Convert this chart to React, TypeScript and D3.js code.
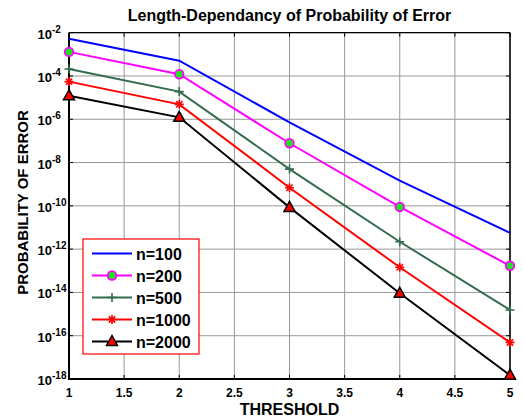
import React from 'react';
import * as d3 from 'd3';

const thresholds = [1, 2, 3, 4, 5];
const p100 = [5.2e-3, 5.1e-4, 7.2e-7, 1.45e-9, 5.7e-12];
const p200 = [1.3e-3, 1.2e-4, 7.8e-8, 8.9e-11, 1.7e-13];
const p500 = [2.1e-4, 1.9e-5, 5.0e-9, 2.2e-12, 1.55e-15];
const p1000 = [5.5e-5, 4.9e-6, 6.9e-10, 1.45e-13, 4.9e-17];
const p2000 = [1.23e-5, 1.23e-6, 8.5e-11, 9.1e-15, 1.5e-18];

const xTicks = [1, 1.5, 2, 2.5, 3, 3.5, 4, 4.5, 5];
const yExponents = [-2, -4, -6, -8, -10, -12, -14, -16, -18];

const series = [
  { name: 'n=100', values: p100, color: '#0000ff', marker: 'none' },
  { name: 'n=200', values: p200, color: '#ff00ff', marker: 'circle' },
  { name: 'n=500', values: p500, color: '#336b4f', marker: 'plus' },
  { name: 'n=1000', values: p1000, color: '#ff0000', marker: 'star' },
  { name: 'n=2000', values: p2000, color: '#000000', marker: 'triangle' },
];

const width = 523,
  height = 419;
const margin = { top: 32.7, right: 13, bottom: 40, left: 69 };
const font = 'Liberation Sans, Arial, sans-serif';

function Marker({ type, color, cx, cy }: { type: string; color: string; cx: number; cy: number }) {
  if (type === 'circle') {
    return <circle cx={cx} cy={cy} r={4.3} fill="#22e022" stroke={color} strokeWidth={1.8} />;
  }
  if (type === 'plus') {
    return (
      <path
        d={`M${cx - 4.5},${cy}H${cx + 4.5}M${cx},${cy - 4.5}V${cy + 4.5}`}
        stroke={color}
        strokeWidth={1.6}
      />
    );
  }
  if (type === 'star') {
    const r = 4.5;
    const d = r * 0.7;
    return (
      <path
        d={`M${cx - r},${cy}H${cx + r}M${cx},${cy - r}V${cy + r}M${cx - d},${cy - d}L${cx + d},${cy + d}M${cx - d},${cy + d}L${cx + d},${cy - d}`}
        stroke={color}
        strokeWidth={1.6}
      />
    );
  }
  if (type === 'triangle') {
    return (
      <path
        d={`M${cx},${cy - 6}L${cx + 5.5},${cy + 4}L${cx - 5.5},${cy + 4}Z`}
        fill="#ff0000"
        stroke="#000"
        strokeWidth={1.5}
      />
    );
  }
  return null;
}

export default function App() {
  const x = d3
    .scaleLinear()
    .domain([1, 5])
    .range([margin.left, width - margin.right]);

  const y = d3
    .scaleLog()
    .domain([1e-18, 1e-2])
    .range([height - margin.bottom, margin.top]);

  const line = d3
    .line<number>()
    .x((_, i) => x(thresholds[i]))
    .y((d) => y(d));

  const x0 = x(1),
    x1 = x(5),
    y0 = y(1e-18),
    y1 = y(1e-2);

  const legend = { left: 83, top: 239, w: 116, h: 115, row: 22 };

  return (
    <svg
      width={width}
      height={height}
      viewBox={`0 0 ${width} ${height}`}
      style={{ position: 'absolute', left: 0, top: 0, background: '#fff' }}
      fontFamily={font}
      fontWeight="bold"
    >
      {/* grid */}
      {xTicks.map((t) => (
        <line key={'gx' + t} x1={x(t)} x2={x(t)} y1={y1} y2={y0} stroke="#999" strokeWidth={1} />
      ))}
      {yExponents.map((e) => (
        <line
          key={'gy' + e}
          x1={x0}
          x2={x1}
          y1={y(Math.pow(10, e))}
          y2={y(Math.pow(10, e))}
          stroke="#999"
          strokeWidth={1}
        />
      ))}

      {/* tick marks */}
      {xTicks.map((t) => (
        <g key={'tx' + t} stroke="#000" strokeWidth={1}>
          <line x1={x(t)} x2={x(t)} y1={y0} y2={y0 - 4} />
          <line x1={x(t)} x2={x(t)} y1={y1} y2={y1 + 4} />
        </g>
      ))}
      {yExponents.map((e) => (
        <g key={'ty' + e} stroke="#000" strokeWidth={1}>
          <line x1={x0} x2={x0 + 4} y1={y(Math.pow(10, e))} y2={y(Math.pow(10, e))} />
          <line x1={x1} x2={x1 - 4} y1={y(Math.pow(10, e))} y2={y(Math.pow(10, e))} />
        </g>
      ))}

      {/* box */}
      <line x1={x0} x2={x1} y1={y1} y2={y1} stroke="#000" strokeWidth={1.2} />
      <line x1={x1} x2={x1} y1={y1} y2={y0} stroke="#000" strokeWidth={1.5} />
      <line x1={x0} x2={x0} y1={y1} y2={y0} stroke="#000" strokeWidth={2} />
      <line x1={x0 - 1} x2={x1} y1={y0} y2={y0} stroke="#000" strokeWidth={2} />

      {/* series */}
      {series.map((s) => (
        <g key={s.name}>
          <path d={line(s.values) || ''} fill="none" stroke={s.color} strokeWidth={2} />
          {s.values.map((v, i) => (
            <Marker key={i} type={s.marker} color={s.color} cx={x(thresholds[i])} cy={y(v)} />
          ))}
        </g>
      ))}

      {/* x tick labels */}
      {xTicks.map((t) => (
        <text key={'lx' + t} x={x(t)} y={y0 + 18} textAnchor="middle" fontSize={12}>
          {t}
        </text>
      ))}

      {/* y tick labels */}
      {yExponents.map((e) => (
        <text key={'ly' + e} x={x0 - 17} y={y(Math.pow(10, e)) + 6} textAnchor="end" fontSize={13}>
          10
        </text>
      ))}
      {yExponents.map((e) => (
        <text key={'le' + e} x={x0 - 17} y={y(Math.pow(10, e))} textAnchor="start" fontSize={10}>
          {e}
        </text>
      ))}

      {/* titles */}
      <text x={(x0 + x1) / 2} y={20.5} textAnchor="middle" fontSize={16}>
        Length-Dependancy of Probability of Error
      </text>
      <text x={(x0 + x1) / 2} y={415} textAnchor="middle" fontSize={16}>
        THRESHOLD
      </text>
      <text
        transform={`translate(28,202.5) rotate(-90)`}
        textAnchor="middle"
        fontSize={15}
      >
        PROBABILITY OF ERROR
      </text>

      {/* legend */}
      <rect
        x={legend.left}
        y={legend.top}
        width={legend.w}
        height={legend.h}
        fill="#fff"
        stroke="#ff0000"
        strokeWidth={1.2}
      />
      {series.map((s, i) => {
        const ly = legend.top + 14.5 + i * legend.row;
        return (
          <g key={'lg' + s.name}>
            <line x1={92} x2={132} y1={ly} y2={ly} stroke={s.color} strokeWidth={2} />
            <Marker type={s.marker} color={s.color} cx={112} cy={ly} />
            <text x={136} y={ly + 6} fontSize={16}>
              {s.name}
            </text>
          </g>
        );
      })}
    </svg>
  );
}
